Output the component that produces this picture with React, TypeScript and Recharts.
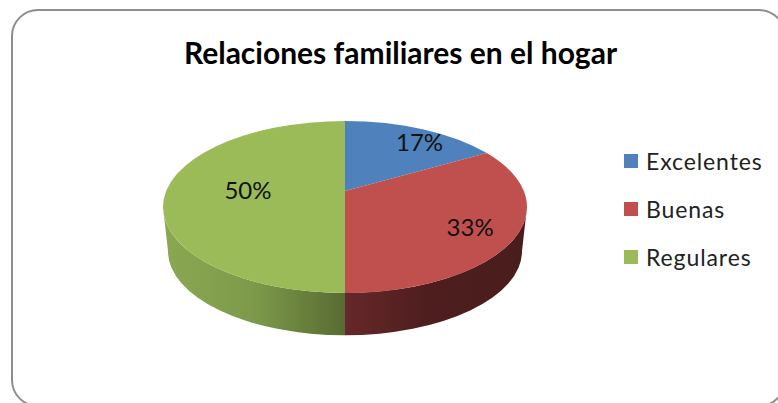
import React from "react";
import { PieChart, Pie, Cell, Legend } from "recharts";

const categories = ["Excelentes", "Buenas", "Regulares"];
const shares = [17, 33, 50];
const colors = ["#4F81BD", "#C0504D", "#9BBB59"];
const chartTitle = "Relaciones familiares en el hogar";

const rows = categories.map((name, i) => ({ name, value: shares[i] }));

// 3D look: how a flat circle is projected
const SQUASH = 86 / 182;
const APEX_LIFT = 16 / 182;
const DEPTH = 44 / 182;
const BOTTOM_SCALE = 177 / 182;
const WARP = 0.81;
const LABEL_REACH_X = [0.97, 0.73, 0.545];
const LABEL_REACH_Y = [0.8, 0.8, 0.545];
const FONT = "Lato, Carlito, sans-serif";

const rad = (d: number) => (d * Math.PI) / 180;
// true clockwise angle from top -> angle on the drawn ellipse
const warp = (t: number) => {
  const turns = Math.floor((t + 180) / 360);
  const r = t - turns * 360;
  if (Math.abs(r) >= 179.999) return t;
  return (2 * Math.atan(WARP * Math.tan(rad(r) / 2)) * 180) / Math.PI + turns * 360;
};

const Slice3D = (p: any) => {
  const { cx, cy, outerRadius: R, startAngle, endAngle, fill } = p;
  const rx = R;
  const ry = R * SQUASH;
  const a = warp(90 - startAngle);
  const b = warp(90 - endAngle);
  const top = (f: number) => [cx + rx * Math.sin(rad(f)), cy - ry * Math.cos(rad(f))];
  const bottomCy = cy + R * DEPTH;
  const brx = rx * BOTTOM_SCALE;
  const bry = ry * 0.98;
  const bot = (f: number) => [cx + brx * Math.sin(rad(f)), bottomCy - bry * Math.cos(rad(f))];
  const [sx, sy] = top(a);
  const [ex, ey] = top(b);
  const apexY = cy - R * APEX_LIFT;
  const surface = `M${cx},${apexY} L${sx},${sy} A${rx},${ry} 0 ${b - a > 180 ? 1 : 0} 1 ${ex},${ey} Z`;

  const w1 = Math.max(a, 90);
  const w2 = Math.min(b, 270);
  let wall = null;
  if (w2 > w1) {
    const [x1, y1] = top(w1);
    const [x2, y2] = top(w2);
    const [x3, y3] = bot(w2);
    const [x4, y4] = bot(w1);
    const d = `M${x1},${y1} A${rx},${ry} 0 0 1 ${x2},${y2} L${x3},${y3} A${brx},${bry} 0 0 0 ${x4},${y4} Z`;
    const isRight = w2 <= 180;
    const id = `wall-${fill.slice(1)}`;
    wall = (
      <g>
        <defs>
          <linearGradient id={id} gradientUnits="userSpaceOnUse" x1={cx - R} x2={cx + R} y1="0" y2="0">
            {isRight ? (
              <>
                <stop offset="0.5" stopColor="#66282A" />
                <stop offset="0.72" stopColor="#4E1E1E" />
                <stop offset="1" stopColor="#4A1D1D" />
              </>
            ) : (
              <>
                <stop offset="0" stopColor="#8AA852" />
                <stop offset="0.25" stopColor="#7D9A4A" />
                <stop offset="0.5" stopColor="#586B32" />
              </>
            )}
          </linearGradient>
        </defs>
        <path d={d} fill={`url(#${id})`} />
      </g>
    );
  }
  return (
    <g>
      {wall}
      <path d={surface} fill={fill} />
    </g>
  );
};

const sliceLabel = (p: any) => {
  const { cx, cy, outerRadius: R, midAngle, index, percent } = p;
  const f = warp(90 - midAngle);
  const ex = cx + R * Math.sin(rad(f));
  const ey = cy - R * SQUASH * Math.cos(rad(f));
  const ay = cy - R * APEX_LIFT;
  return (
    <text
      x={cx + (ex - cx) * LABEL_REACH_X[index]}
      y={ay + (ey - ay) * LABEL_REACH_Y[index]}
      textAnchor="middle"
      dominantBaseline="central"
      fontFamily={FONT}
      fontSize={24}
      fill="#111"
    >
      {`${Math.round(percent * 100)}%`}
    </text>
  );
};

const LegendBox = (props: any) => (
  <div style={{ fontFamily: FONT, fontSize: 23, letterSpacing: 0.9, color: "#222" }}>
    {(props.payload || []).map((e: any) => (
      <div key={e.value} style={{ display: "flex", alignItems: "center", height: 48 }}>
        <span style={{ width: 14, height: 14, background: e.color, marginRight: 8, display: "block" }} />
        <span>{e.value}</span>
      </div>
    ))}
  </div>
);

export default function App() {
  return (
    <div style={{ position: "absolute", left: 0, top: 0, width: 778, height: 403, overflow: "hidden", background: "#fff" }}>
      <div
        style={{
          position: "absolute",
          left: 11,
          top: 9,
          width: 775,
          height: 398,
          border: "2.5px solid #8E8E8E",
          borderRadius: 27,
          boxSizing: "border-box",
        }}
      />
      <div style={{ position: "absolute", left: 0, top: 0 }}>
        <PieChart width={778} height={403} margin={{ top: 0, right: 0, bottom: 0, left: 0 }}>
          <text x={400.5} y={52} textAnchor="middle" dominantBaseline="central" fontFamily={FONT} fontWeight={700} fontSize={30} fill="#000">
            {chartTitle}
          </text>
          <Pie
            data={rows}
            dataKey="value"
            nameKey="name"
            cx={345}
            cy={207}
            outerRadius={182}
            startAngle={90}
            endAngle={-270}
            stroke="none"
            shape={Slice3D}
            label={sliceLabel}
            labelLine={false}
            isAnimationActive={false}
          >
            {rows.map((r, i) => (
              <Cell key={r.name} fill={colors[i]} />
            ))}
          </Pie>
          <Legend
            layout="vertical"
            itemSorter={null}
            content={<LegendBox />}
            wrapperStyle={{ position: "absolute", left: 624, top: 137, width: 150 }}
          />
        </PieChart>
      </div>
    </div>
  );
}
